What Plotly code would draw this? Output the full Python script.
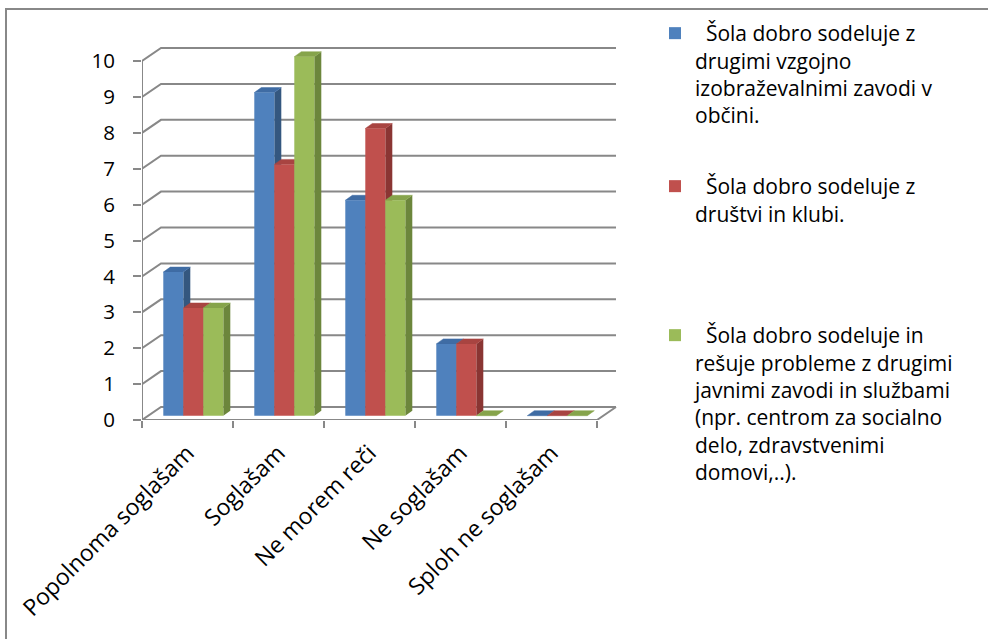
import plotly.graph_objects as go

# ---------------- data ----------------
categories = ["Popolnoma soglašam", "Soglašam", "Ne morem reči", "Ne soglašam", "Sploh ne soglašam"]
series_names = [
    "\u00a0\u00a0Šola dobro sodeluje z<br>drugimi vzgojno<br>izobraževalnimi zavodi v<br>občini.",
    "\u00a0\u00a0Šola dobro sodeluje z<br>društvi in klubi.",
    "\u00a0\u00a0Šola dobro sodeluje in<br>rešuje probleme z drugimi<br>javnimi zavodi in službami<br>(npr. centrom za socialno<br>delo, zdravstvenimi<br>domovi,..).",
]
values_s1 = [4, 9, 6, 2, 0]
values_s2 = [3, 7, 8, 2, 0]
values_s3 = [3, 10, 6, 0, 0]
y_ticks = [0, 1, 2, 3, 4, 5, 6, 7, 8, 9, 10]

series_values = [values_s1, values_s2, values_s3]
front_colors = ["#4F81BD", "#C0504D", "#9BBB59"]
top_colors = ["#3F6CA4", "#A84441", "#86A44B"]
side_colors = ["#34577F", "#8A3533", "#6C863C"]

# ---------------- geometry (pixels -> data units) ----------------
W, H = 988, 639
PL, PR, PT, PB = 142, 625, 40, 420          # plot area in pixels
PXX, PXY = 91.0, 35.9                        # pixels per data unit
x_range = [-0.5, -0.5 + (PR - PL) / PXX]
y_range = [0, (PB - PT) / PXY]
dxu, dyu = 19 / PXX, 13 / PXY                # depth of the back wall
sdx, sdy = 7 / PXX, 5 / PXY                  # depth of each bar
bar_w = 20 / PXX
bar_off0 = -24.2 / PXX
bar_base = 0.12
grid_col = "#888888"
FONT = "Open Sans"
FS_Y = 20.5
FS_X = 23
FS_LEG = 21
n = len(categories)

def px_to_paper_x(px):
    return (px - PL) / (PR - PL)

def px_to_paper_y(py):
    return (PB - py) / (PB - PT)

fig = go.Figure()

# back wall grid lines with left diagonals
gx, gy = [], []
for v in y_ticks:
    gx += [-0.5, -0.5 + dxu, n - 0.5 + dxu, None]
    gy += [v, v + dyu, v + dyu, None]
fig.add_trace(go.Scatter(x=gx, y=gy, mode="lines", line=dict(color=grid_col, width=2),
                         hoverinfo="skip", showlegend=False))
# floor front edge, right diagonal, front vertical axis
fig.add_trace(go.Scatter(x=[-0.5, n - 0.5, n - 0.5 + dxu, None, -0.5, -0.5],
                         y=[0, 0, dyu, None, 0, y_ticks[-1]],
                         mode="lines", line=dict(color=grid_col, width=2),
                         hoverinfo="skip", showlegend=False))

# side and top faces (painter's order, left to right)
for ci in range(n):
    for si, vals in enumerate(series_values):
        v = vals[ci]
        xl = ci + bar_off0 + si * bar_w
        xr = xl + bar_w
        b = bar_base
        t = b + v
        fig.add_trace(go.Scatter(x=[xr, xr + sdx, xr + sdx, xr, xr],
                                 y=[b, b + sdy, t + sdy, t, b],
                                 fill="toself", fillcolor=side_colors[si], mode="lines",
                                 line=dict(width=0, color=side_colors[si]),
                                 hoverinfo="skip", showlegend=False))
        fig.add_trace(go.Scatter(x=[xl, xl + sdx, xr + sdx, xr, xl],
                                 y=[t, t + sdy, t + sdy, t, t],
                                 fill="toself", fillcolor=top_colors[si], mode="lines",
                                 line=dict(width=0.5, color=top_colors[si]),
                                 hoverinfo="skip", showlegend=False))

# front faces as bars on the overlay subplot
for si, vals in enumerate(series_values):
    fig.add_trace(go.Bar(
        x=list(range(n)), y=vals, base=bar_base, width=bar_w,
        offset=bar_off0 + si * bar_w,
        marker=dict(color=front_colors[si], line=dict(width=0)),
        name=series_names[si], xaxis="x2", yaxis="y2",
        legend=["legend", "legend2", "legend3"][si],
    ))

legend_x = 655
legend_tops = [13, 166, 315]
legend_common = dict(font=dict(family=FONT, size=FS_LEG, color="#000000"),
                     bgcolor="rgba(0,0,0,0)", borderwidth=0,
                     xanchor="left", yanchor="top", valign="top", itemclick=False)

fig.update_layout(
    width=W, height=H,
    margin=dict(l=PL, r=W - PR, t=PT, b=H - PB, pad=0),
    paper_bgcolor="white", plot_bgcolor="rgba(0,0,0,0)",
    barmode="overlay",
    font=dict(family=FONT, size=FS_Y, color="#000000"),
    xaxis=dict(range=x_range, tickmode="array",
               tickvals=[i - 0.5 for i in range(n + 1)],
               showticklabels=False, ticks="outside", ticklen=7, tickwidth=2,
               tickcolor=grid_col, showgrid=False, zeroline=False, showline=False),
    yaxis=dict(range=y_range, tickmode="array", tickvals=y_ticks,
               ticks="outside", ticklen=8, tickwidth=2, tickcolor=grid_col,
               showgrid=False, zeroline=False, showline=False,
               ticklabelstandoff=14,
               tickfont=dict(family=FONT, size=FS_Y, color="#000000")),
    xaxis2=dict(range=x_range, overlaying="x", anchor="y2", side="bottom",
                tickmode="array", tickvals=list(range(n)), ticktext=categories,
                tickangle=-45, ticks="", showgrid=False, zeroline=False, showline=False,
                ticklabelstandoff=14,
                tickfont=dict(family=FONT, size=FS_X, color="#000000")),
    yaxis2=dict(range=y_range, overlaying="y", anchor="x2", visible=False),
    legend=dict(x=px_to_paper_x(legend_x), y=px_to_paper_y(legend_tops[0]), **legend_common),
    legend2=dict(x=px_to_paper_x(legend_x), y=px_to_paper_y(legend_tops[1]), **legend_common),
    legend3=dict(x=px_to_paper_x(legend_x), y=px_to_paper_y(legend_tops[2]), **legend_common),
    shapes=[dict(type="path", xref="paper", yref="paper",
                 path=f"M {px_to_paper_x(6)},{px_to_paper_y(660)} L {px_to_paper_x(6)},{px_to_paper_y(9)} L {px_to_paper_x(1000)},{px_to_paper_y(9)}",
                 line=dict(color=grid_col, width=2))],
)

fig.write_html("out.html", config={"displayModeBar": False},
               post_script="document.body.style.margin='0';document.body.style.overflow='hidden';")
